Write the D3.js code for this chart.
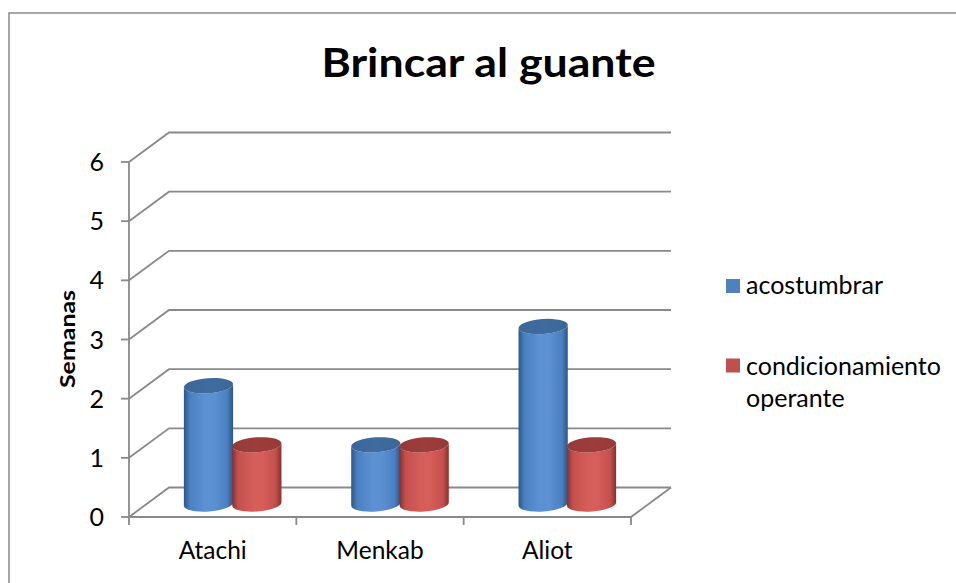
<!DOCTYPE html>
<html>
<head>
<meta charset="utf-8">
<script src="https://cdn.jsdelivr.net/npm/d3@7"></script>
<style>
  html, body { margin: 0; padding: 0; background: #fff; }
  svg { display: block; font-family: Lato, "Open Sans", sans-serif; }
</style>
</head>
<body>
<svg id="chart" width="956" height="583"></svg>
<script>
// Data
const categories = ["Atachi", "Menkab", "Aliot"];
const seriesNames = ["acostumbrar", "condicionamiento operante"];
const acostumbrar = [2, 1, 3];
const condicionamiento = [1, 1, 1];
const yTicks = [0, 1, 2, 3, 4, 5, 6];
const title = "Brincar al guante";
const yTitle = "Semanas";

const seriesValues = [acostumbrar, condicionamiento];
const palette = [
  { light: "#5b90d3", mid: "#4a7fc0", dark: "#2c5586", top: "#3c6698", key: "#4f81bd" },
  { light: "#d55d5a", mid: "#c4504d", dark: "#87302e", top: "#953a38", key: "#c0504d" }
];

const svg = d3.select("#chart");
const W = 956, H = 583;

// Oblique projection: the front plane plus a depth offset for the back wall
const depthX = 40, depthY = -29.5;
const x = d3.scaleBand().domain(categories).range([129, 631]);
const y = d3.scaleLinear().domain([0, 6]).range([517, 162]);
const xs = d3.scaleBand().domain(d3.range(seriesValues.length))
  .range([0, x.bandwidth()]).paddingOuter(0.72).paddingInner(-0.02);

const gridColor = "#898989";

// Chart frame
svg.append("rect").attr("x", 9).attr("y", 13).attr("width", W).attr("height", H)
  .attr("fill", "none").attr("stroke", "#8a8a8a").attr("stroke-width", 1.5);

// Title
svg.append("text").attr("x", 488.5).attr("y", 77).attr("text-anchor", "middle")
  .attr("font-size", 41).attr("font-weight", 700).attr("fill", "#000")
  .attr("textLength", 334).attr("lengthAdjust", "spacingAndGlyphs")
  .text(title);

const x0 = x.range()[0], x1 = x.range()[1];

// Back wall gridlines with the side-wall diagonals
const grid = svg.append("g").attr("stroke", gridColor).attr("stroke-width", 1.8).attr("fill", "none");
yTicks.forEach(v => {
  const yy = y(v);
  grid.append("path")
    .attr("d", `M${x0},${yy}L${x0 + depthX},${yy + depthY}L${x1 + depthX},${yy + depthY}`);
});
// Floor: front edge and right edge
grid.append("path").attr("d", `M${x0},${y(0)}L${x1},${y(0)}L${x1 + depthX},${y(0) + depthY}`);

// Front value axis
grid.append("line").attr("x1", x0).attr("x2", x0).attr("y1", y(6)).attr("y2", y(0));
yTicks.forEach(v => {
  grid.append("line").attr("x1", x0 - 8).attr("x2", x0).attr("y1", y(v)).attr("y2", y(v));
});
// Category ticks
const boundaries = categories.map(c => x(c)).concat([x1]);
boundaries.forEach(b => {
  grid.append("line").attr("x1", b).attr("x2", b).attr("y1", y(0)).attr("y2", y(0) + 8);
});

// Tick labels
svg.append("g").selectAll("text").data(yTicks).join("text")
  .attr("x", 104).attr("y", d => y(d)).attr("dy", "0.36em")
  .attr("text-anchor", "end").attr("font-size", 25).attr("fill", "#000")
  .text(d => d);

svg.append("g").selectAll("text").data(categories).join("text")
  .attr("x", d => x(d) + x.bandwidth() / 2).attr("y", 559)
  .attr("text-anchor", "middle").attr("font-size", 24.5).attr("fill", "#000")
  .text(d => d);

// Axis title
svg.append("text").attr("transform", "translate(75,339) rotate(-90)")
  .attr("text-anchor", "middle").attr("font-size", 21).attr("font-weight", 700)
  .attr("textLength", 98).attr("lengthAdjust", "spacingAndGlyphs")
  .text(yTitle);

// Cylinder shading
const defs = svg.append("defs");
palette.forEach((p, i) => {
  const g = defs.append("linearGradient").attr("id", "body" + i)
    .attr("x1", "0%").attr("x2", "100%").attr("y1", "0%").attr("y2", "0%");
  [[0, p.dark], [0.12, p.mid], [0.42, p.light], [0.62, p.light], [0.88, p.mid], [1, p.dark]]
    .forEach(([o, c]) => g.append("stop").attr("offset", o).attr("stop-color", c));
  const t = defs.append("linearGradient").attr("id", "top" + i)
    .attr("x1", "0%").attr("x2", "100%").attr("y1", "0%").attr("y2", "0%");
  [[0, p.top], [0.5, d3.color(p.top).brighter(0.15)], [1, p.top]]
    .forEach(([o, c]) => t.append("stop").attr("offset", o).attr("stop-color", c));
});

// Cylinders stand in the middle of the floor depth
const cylDX = 20, cylDY = -13;
const rx = xs.bandwidth() / 2, ry = 7.5;
const tilt = -4; // degrees
const tr = tilt * Math.PI / 180;
const ox = rx * Math.cos(tr), oy = rx * Math.sin(tr);

const bars = [];
categories.forEach((c, ci) => {
  seriesValues.forEach((vals, si) => {
    bars.push({ cat: c, s: si, v: vals[ci] });
  });
});

const cyl = svg.append("g");
bars.forEach(b => {
  const cx = x(b.cat) + xs(b.s) + rx + cylDX;
  const yb = y(0) + cylDY;
  const yt = y(b.v) + cylDY;
  const body = `M${cx - ox},${yt - oy}L${cx - ox},${yb - oy}` +
    `A${rx},${ry} ${tilt} 0 0 ${cx + ox},${yb + oy}` +
    `L${cx + ox},${yt + oy}` +
    `A${rx},${ry} ${tilt} 0 1 ${cx - ox},${yt - oy}Z`;
  cyl.append("path").attr("d", body).attr("fill", `url(#body${b.s})`);
  cyl.append("ellipse").attr("cx", cx).attr("cy", yt).attr("rx", rx).attr("ry", ry)
    .attr("transform", `rotate(${tilt},${cx},${yt})`)
    .attr("fill", `url(#top${b.s})`);
});

// Legend
const legendY = [286, 365.5];
const leg = svg.append("g");
seriesNames.forEach((name, i) => {
  leg.append("rect").attr("x", 726).attr("y", legendY[i] - 7).attr("width", 14).attr("height", 14)
    .attr("fill", palette[i].key);
});
leg.append("text").attr("x", 746).attr("y", 294).attr("font-size", 25).text("acostumbrar");
const lt = leg.append("text").attr("x", 746).attr("y", 375).attr("font-size", 25);
lt.append("tspan").attr("x", 746).text("condicionamiento");
lt.append("tspan").attr("x", 746).attr("y", 407).text("operante");
</script>
</body>
</html>
